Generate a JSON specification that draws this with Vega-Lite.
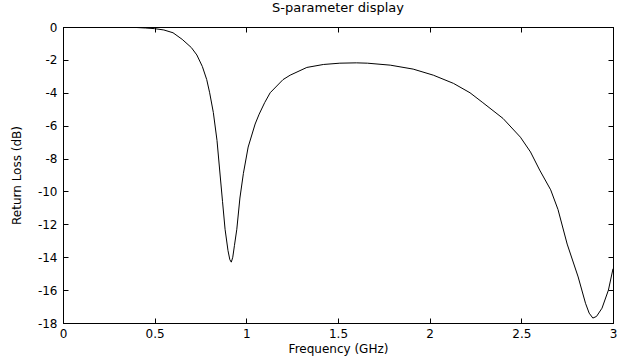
{
  "$schema": "https://vega.github.io/schema/vega-lite/v6.json",
  "width": 550,
  "height": 296,
  "autosize": {"type": "none"},
  "padding": {"left": 63, "top": 27, "right": 6, "bottom": 35},
  "background": "white",
  "config": {
    "font": "DejaVu Sans",
    "view": {"stroke": "black", "strokeWidth": 1},
    "axis": {
      "grid": false,
      "domainColor": "black",
      "domainWidth": 1,
      "tickColor": "black",
      "tickSize": -5,
      "labelColor": "black",
      "labelFont": "DejaVu Sans",
      "labelFontSize": 12,
      "labelFlush": false,
      "labelOverlap": false,
      "labelBound": false,
      "titleColor": "black",
      "titleFont": "DejaVu Sans",
      "titleFontSize": 12,
      "titleFontWeight": "normal"
    }
  },
  "title": {"text": "S-parameter display", "font": "DejaVu Sans", "fontSize": 13, "fontWeight": "normal", "color": "black", "offset": 6},
  "data": {"values": [
    {"f": 0, "db": 0}, {"f": 0.1, "db": 0}, {"f": 0.2, "db": 0}, {"f": 0.3, "db": -0.01},
    {"f": 0.4, "db": -0.03}, {"f": 0.45, "db": -0.06}, {"f": 0.5, "db": -0.1}, {"f": 0.55, "db": -0.18},
    {"f": 0.6, "db": -0.35}, {"f": 0.65, "db": -0.75}, {"f": 0.7, "db": -1.25}, {"f": 0.73, "db": -1.7},
    {"f": 0.76, "db": -2.4}, {"f": 0.784, "db": -3.2}, {"f": 0.8, "db": -4.0}, {"f": 0.82, "db": -5.2},
    {"f": 0.84, "db": -6.9}, {"f": 0.857, "db": -9.0}, {"f": 0.87, "db": -10.6}, {"f": 0.884, "db": -12.3},
    {"f": 0.9, "db": -13.6}, {"f": 0.91, "db": -14.15}, {"f": 0.918, "db": -14.3}, {"f": 0.926, "db": -14.0},
    {"f": 0.935, "db": -13.3}, {"f": 0.948, "db": -12.3}, {"f": 0.965, "db": -10.4}, {"f": 0.984, "db": -8.9},
    {"f": 1.01, "db": -7.3}, {"f": 1.048, "db": -5.9}, {"f": 1.07, "db": -5.3}, {"f": 1.1, "db": -4.6},
    {"f": 1.13, "db": -4.0}, {"f": 1.2, "db": -3.2}, {"f": 1.239, "db": -2.93}, {"f": 1.33, "db": -2.46},
    {"f": 1.42, "db": -2.28}, {"f": 1.51, "db": -2.2}, {"f": 1.6, "db": -2.18}, {"f": 1.66, "db": -2.2},
    {"f": 1.785, "db": -2.32}, {"f": 1.91, "db": -2.56}, {"f": 2.02, "db": -2.93}, {"f": 2.13, "db": -3.43},
    {"f": 2.22, "db": -4.0}, {"f": 2.29, "db": -4.6}, {"f": 2.4, "db": -5.56}, {"f": 2.495, "db": -6.7},
    {"f": 2.55, "db": -7.6}, {"f": 2.6, "db": -8.7}, {"f": 2.66, "db": -9.9}, {"f": 2.7, "db": -11.1},
    {"f": 2.75, "db": -13.2}, {"f": 2.81, "db": -15.2}, {"f": 2.85, "db": -16.8}, {"f": 2.87, "db": -17.4},
    {"f": 2.89, "db": -17.7}, {"f": 2.91, "db": -17.6}, {"f": 2.94, "db": -17.1}, {"f": 2.975, "db": -16.0},
    {"f": 3.0, "db": -14.7}
  ]},
  "layer": [
    {
      "mark": {"type": "line", "color": "black", "strokeWidth": 1, "clip": true},
      "encoding": {
        "x": {"field": "f", "type": "quantitative", "scale": {"domain": [0, 3], "nice": false, "zero": false},
          "axis": {"orient": "bottom", "title": "Frequency (GHz)", "values": [0, 0.5, 1, 1.5, 2, 2.5, 3], "labelExpr": "datum.value + ''", "labelPadding": 10, "titlePadding": 4}},
        "y": {"field": "db", "type": "quantitative", "scale": {"domain": [-18, 0], "nice": false, "zero": false},
          "axis": {"orient": "left", "title": "Return Loss (dB)", "values": [0, -2, -4, -6, -8, -10, -12, -14, -16, -18], "labelExpr": "datum.value + ''", "labelPadding": 11, "titlePadding": 14}}
      }
    },
    {
      "mark": {"type": "line", "opacity": 0},
      "encoding": {
        "x": {"field": "f", "type": "quantitative", "scale": {"domain": [0, 3], "nice": false, "zero": false},
          "axis": {"orient": "top", "title": null, "labels": false, "values": [0, 0.5, 1, 1.5, 2, 2.5, 3]}},
        "y": {"field": "db", "type": "quantitative", "scale": {"domain": [-18, 0], "nice": false, "zero": false},
          "axis": {"orient": "right", "title": null, "labels": false, "values": [0, -2, -4, -6, -8, -10, -12, -14, -16, -18]}}
      }
    }
  ],
  "resolve": {"axis": {"x": "independent", "y": "independent"}}
}
